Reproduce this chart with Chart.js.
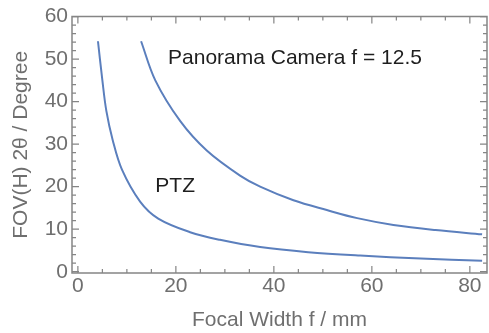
<!DOCTYPE html>
<html>
<head>
<meta charset="utf-8">
<script src="https://cdn.jsdelivr.net/npm/chart.js@4/dist/chart.umd.min.js"></script>
<style>
  html, body { margin: 0; padding: 0; background: #fff; }
  #wrap { width: 489px; height: 333px; }
</style>
</head>
<body>
<div id="wrap"><canvas id="fov"></canvas></div>
<script>
// values (focal width f in mm, FOV in degrees)
const ptzF   = [4.1, 5.0, 5.8, 7.1, 9.0, 12.7, 16.4, 22.9, 29.0, 37.2, 47.0, 57.6, 70.0, 82.5];
const ptzFov = [54.2, 45.0, 37.9, 31.0, 24.0, 16.5, 12.5, 9.3, 7.5, 5.8, 4.6, 3.8, 3.1, 2.6];
const panoF   = [12.9, 15.8, 20.9, 26.3, 33.1, 37.2, 44.0, 50.8, 57.0, 64.4, 73.0, 82.5];
const panoFov = [54.2, 45.0, 35.4, 28.5, 22.6, 20.0, 16.8, 14.5, 12.6, 11.0, 9.8, 8.8];
const xTicks = [0, 20, 40, 60, 80];
const yTicks = [0, 10, 20, 30, 40, 50, 60];

const grey = '#6f6f6f';
const lineBlue = '#5b7fbd';
const fontFam = '"Liberation Sans", Arial, sans-serif';

const pts = (xs, ys) => xs.map((x, i) => ({ x, y: ys[i] }));

const curve = (label, data) => ({
  label,
  data,
  showLine: true,
  borderColor: lineBlue,
  backgroundColor: lineBlue,
  borderWidth: 2,
  pointRadius: 0,
  tension: 0.35
});

// Mathematica-style frame with inward ticks on all sides
const frame = {
  id: 'frame',
  afterDatasetsDraw(chart) {
    const { ctx, chartArea: a, scales: { x, y } } = chart;
    ctx.save();
    ctx.strokeStyle = '#858585';
    ctx.lineWidth = 1.5;
    ctx.beginPath();
    ctx.moveTo(a.left, a.top);
    ctx.lineTo(a.right, a.top);
    ctx.lineTo(a.right, a.bottom);
    ctx.lineTo(a.left, a.bottom);
    ctx.closePath();
    ctx.stroke();
    ctx.lineWidth = 1.2;
    ctx.beginPath();
    for (let v = 0; v <= 80; v += 5) {
      const px = x.getPixelForValue(v);
      const len = v % 20 === 0 ? 7 : 4;
      ctx.moveTo(px, a.bottom); ctx.lineTo(px, a.bottom - len);
      ctx.moveTo(px, a.top); ctx.lineTo(px, a.top + len);
    }
    for (let v = 0; v <= 60; v += 2) {
      const py = y.getPixelForValue(v);
      const len = v % 10 === 0 ? 7 : 4;
      ctx.moveTo(a.left, py); ctx.lineTo(a.left + len, py);
      ctx.moveTo(a.right, py); ctx.lineTo(a.right - len, py);
    }
    ctx.stroke();

    ctx.fillStyle = '#1e1e1e';
    ctx.font = '21px ' + fontFam;
    ctx.textBaseline = 'middle';
    ctx.textAlign = 'left';
    ctx.fillText('Panorama Camera f = 12.5', x.getPixelForValue(18.4), y.getPixelForValue(50.2));
    ctx.fillText('PTZ', x.getPixelForValue(15.8), y.getPixelForValue(20));
    ctx.restore();
  }
};

new Chart(document.getElementById('fov'), {
  type: 'scatter',
  data: {
    datasets: [
      curve('PTZ', pts(ptzF, ptzFov)),
      curve('Panorama', pts(panoF, panoFov))
    ]
  },
  options: {
    responsive: true,
    maintainAspectRatio: false,
    animation: false,
    layout: { padding: { top: 15, right: 2, left: 0, bottom: 0 } },
    plugins: { legend: { display: false }, tooltip: { enabled: false } },
    scales: {
      x: {
        type: 'linear', min: -1.2, max: 83.5,
        afterBuildTicks: (s) => { s.ticks = xTicks.map((v) => ({ value: v })); },
        afterFit: (s) => { s.height = 60; },
        grid: { display: false, drawTicks: false }, border: { display: false },
        ticks: { color: grey, font: { size: 21, family: fontFam }, padding: 1, maxRotation: 0 },
        title: { display: true, text: 'Focal Width f / mm', color: grey, font: { size: 21, family: fontFam }, padding: { top: 0, bottom: 0 } }
      },
      y: {
        type: 'linear', min: -0.3, max: 60,
        afterBuildTicks: (s) => { s.ticks = yTicks.map((v) => ({ value: v })); },
        afterFit: (s) => { s.width = 72; },
        grid: { display: false, drawTicks: false }, border: { display: false },
        ticks: { color: grey, font: { size: 21, family: fontFam }, padding: 4 },
        title: { display: true, text: 'FOV(H) 2θ / Degree', color: grey, font: { size: 21, family: fontFam }, padding: { top: 9, bottom: 0 } }
      }
    }
  },
  plugins: [frame]
});
</script>
</body>
</html>
